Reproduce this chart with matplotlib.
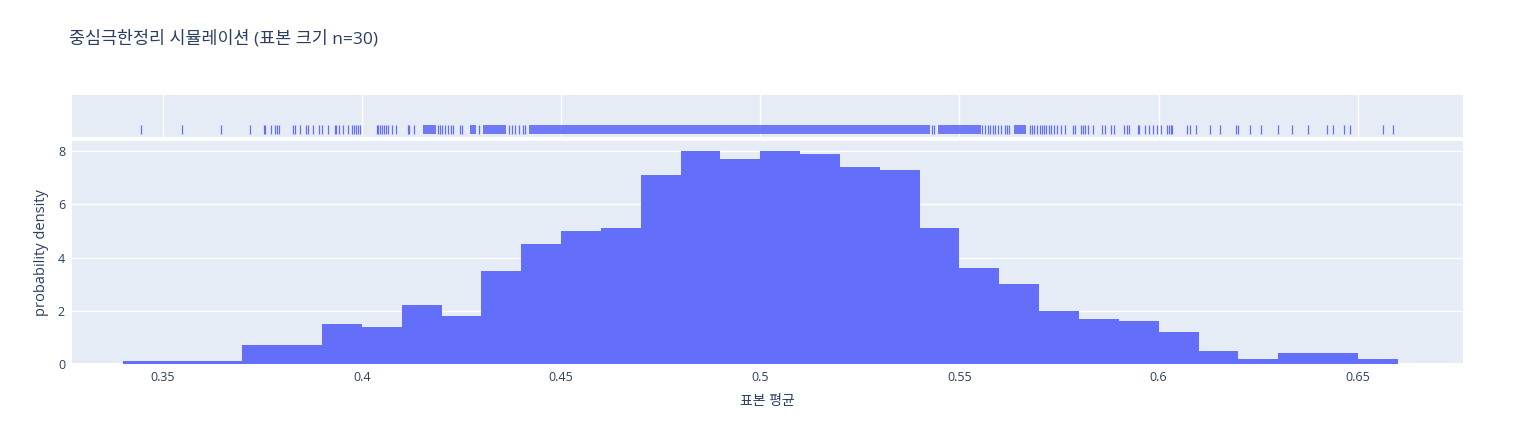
import matplotlib
matplotlib.use("Agg")
import matplotlib.pyplot as plt

plt.rcParams['font.family'] = ['Open Sans', 'Noto Sans CJK KR', 'DejaVu Sans']

TEXT = '#2a3f5f'
BG = '#e5ecf6'
BAR = '#636efa'

# histogram (density), bin width 0.01
bin_left = [0.34, 0.35, 0.36, 0.37, 0.38, 0.39, 0.40, 0.41, 0.42, 0.43, 0.44,
            0.45, 0.46, 0.47, 0.48, 0.49, 0.50, 0.51, 0.52, 0.53, 0.54, 0.55,
            0.56, 0.57, 0.58, 0.59, 0.60, 0.61, 0.62, 0.63, 0.64, 0.65]
density = [0.1, 0.1, 0.1, 0.7, 0.7, 1.5, 1.4, 2.2, 1.8, 3.5, 4.5,
           5.0, 5.1, 7.1, 8.0, 7.7, 8.0, 7.9, 7.4, 7.3, 5.1, 3.6,
           3.0, 2.0, 1.7, 1.6, 1.2, 0.5, 0.2, 0.4, 0.4, 0.2]
bin_width = 0.01

# rug: single sample positions
rug_ticks = [0.3445, 0.3549, 0.3647, 0.3718, 0.3754, 0.3757, 0.3772, 0.3782,
             0.3787, 0.3792, 0.3826, 0.3833, 0.3844, 0.3860, 0.3864, 0.3876,
             0.3891, 0.3899, 0.3914, 0.3932, 0.3936, 0.3943, 0.3952, 0.3966,
             0.3974, 0.3979, 0.3985, 0.3990, 0.3996,
             0.4037, 0.4041, 0.4046, 0.4050, 0.4055, 0.4060, 0.4066, 0.4075,
             0.4086, 0.4115, 0.4119, 0.4130, 0.4192, 0.4197, 0.4202, 0.4209,
             0.4215, 0.4223, 0.4228, 0.4245, 0.4252, 0.4293, 0.4370, 0.4377,
             0.4385, 0.4393, 0.4404, 0.4410,
             0.5431, 0.5437, 0.5557, 0.5563, 0.5571, 0.5577, 0.5584, 0.5590,
             0.5596, 0.5605, 0.5613, 0.5619, 0.5625, 0.5676, 0.5682, 0.5688,
             0.5694, 0.5701, 0.5706, 0.5711, 0.5717, 0.5724, 0.5730, 0.5737,
             0.5744, 0.5755, 0.5765, 0.5786, 0.5790, 0.5804, 0.5809, 0.5815,
             0.5822, 0.5834, 0.5858, 0.5866, 0.5881, 0.5887, 0.5913, 0.5920,
             0.5926, 0.5947, 0.5951, 0.5966, 0.5976, 0.5985, 0.5997, 0.6006,
             0.6022, 0.6026, 0.6030, 0.6034, 0.6072, 0.6079, 0.6094, 0.6130,
             0.6155, 0.6193, 0.6198, 0.6230, 0.6256, 0.6299, 0.6335, 0.6374,
             0.6422, 0.6437, 0.6465, 0.6481, 0.6563, 0.6589]
# stretches where the rug ticks merge into a solid band
rug_blocks = [(0.4152, 0.4186), (0.4270, 0.4285), (0.4305, 0.4362),
              (0.4420, 0.5425), (0.5446, 0.5554), (0.5638, 0.5667)]

x_ticks = [0.35, 0.4, 0.45, 0.5, 0.55, 0.6, 0.65]
x_labels = ['0.35', '0.4', '0.45', '0.5', '0.55', '0.6', '0.65']
y_ticks = [0, 2, 4, 6, 8]

W, H = 1534, 430
fig = plt.figure(figsize=(W / 100, H / 100), dpi=100)
xmin, xmax = 0.3272, 0.6764

def box(x0, y0, x1, y1):
    return [x0 / W, 1 - y1 / H, (x1 - x0) / W, (y1 - y0) / H]

# main histogram
ax = fig.add_axes(box(72, 141, 1463, 364))
ax.set_facecolor(BG)
ax.bar(bin_left, density, width=bin_width, align='edge', color=BAR,
       linewidth=0, zorder=3)
ax.set_xlim(xmin, xmax)
ax.set_ylim(0, 8.38)
ax.set_yticks(y_ticks)
ax.set_xticks(x_ticks)
ax.set_xticklabels(x_labels)
ax.grid(axis='y', color='white', linewidth=1, zorder=1)
ax.axhline(0, color='white', linewidth=2, zorder=2)
for s in ax.spines.values():
    s.set_visible(False)
ax.tick_params(length=0, labelsize=9, colors=TEXT, pad=5)
ax.set_xlabel('표본 평균', fontsize=10, color=TEXT, labelpad=7)
ax.set_ylabel('probability density', fontsize=10.5, color=TEXT, labelpad=6)

# marginal rug
axr = fig.add_axes(box(72, 95, 1463, 137))
axr.set_facecolor(BG)
axr.set_xlim(xmin, xmax)
axr.set_ylim(0, 1)
axr.set_xticks(x_ticks)
axr.set_yticks([])
axr.grid(axis='x', color='white', linewidth=1, zorder=1)
axr.tick_params(length=0, labelbottom=False)
for s in axr.spines.values():
    s.set_visible(False)
axr.vlines(rug_ticks, 0.07, 0.29, color=BAR, linewidth=0.9, zorder=3)
axr.broken_barh([(lo, hi - lo) for lo, hi in rug_blocks], (0.07, 0.22),
                facecolor=BAR, alpha=0.9, linewidth=0, zorder=3)

fig.text(69 / W, 1 - 39 / H, '중심극한정리 시뮬레이션 (표본 크기 n=30)',
         fontsize=12.5, color=TEXT, ha='left', va='center')

fig.savefig('out.png', dpi=100, facecolor='white')
